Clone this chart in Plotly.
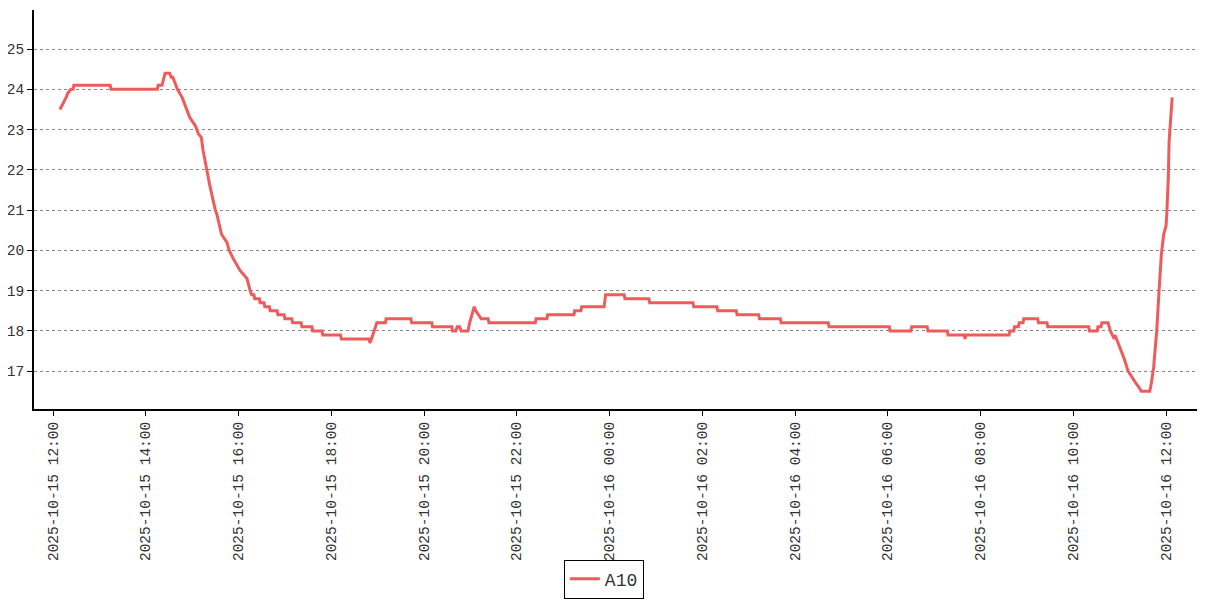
import plotly.graph_objects as go

# Sensor A10 temperature readings (plateau start/end points kept as separate samples)
times = [
    "2025-10-15 12:09", "2025-10-15 12:12", "2025-10-15 12:14", "2025-10-15 12:17", "2025-10-15 12:19",
    "2025-10-15 12:23", "2025-10-15 12:26", "2025-10-15 12:27", "2025-10-15 13:14", "2025-10-15 13:15",
    "2025-10-15 14:15", "2025-10-15 14:16", "2025-10-15 14:21", "2025-10-15 14:22", "2025-10-15 14:25",
    "2025-10-15 14:31", "2025-10-15 14:33", "2025-10-15 14:35", "2025-10-15 14:37", "2025-10-15 14:41",
    "2025-10-15 14:47", "2025-10-15 14:53", "2025-10-15 14:57", "2025-10-15 15:04", "2025-10-15 15:08",
    "2025-10-15 15:12", "2025-10-15 15:14", "2025-10-15 15:17", "2025-10-15 15:19", "2025-10-15 15:23",
    "2025-10-15 15:30", "2025-10-15 15:32", "2025-10-15 15:38", "2025-10-15 15:45", "2025-10-15 15:48",
    "2025-10-15 15:53", "2025-10-15 16:02", "2025-10-15 16:11", "2025-10-15 16:15",
    "2025-10-15 16:17", "2025-10-15 16:20", "2025-10-15 16:21", "2025-10-15 16:27",
    "2025-10-15 16:28", "2025-10-15 16:33", "2025-10-15 16:34", "2025-10-15 16:40",
    "2025-10-15 16:41", "2025-10-15 16:50", "2025-10-15 16:51", "2025-10-15 16:59",
    "2025-10-15 17:00", "2025-10-15 17:09", "2025-10-15 17:10", "2025-10-15 17:21",
    "2025-10-15 17:22", "2025-10-15 17:35", "2025-10-15 17:36", "2025-10-15 17:48",
    "2025-10-15 17:49", "2025-10-15 18:12", "2025-10-15 18:13", "2025-10-15 18:49",
    "2025-10-15 18:50", "2025-10-15 18:52", "2025-10-15 18:55", "2025-10-15 18:59",
    "2025-10-15 19:10", "2025-10-15 19:11", "2025-10-15 19:43", "2025-10-15 19:44",
    "2025-10-15 20:10", "2025-10-15 20:11", "2025-10-15 20:36", "2025-10-15 20:37",
    "2025-10-15 20:41", "2025-10-15 20:43", "2025-10-15 20:46", "2025-10-15 20:48",
    "2025-10-15 20:57", "2025-10-15 20:59", "2025-10-15 21:02", "2025-10-15 21:05",
    "2025-10-15 21:07", "2025-10-15 21:10", "2025-10-15 21:14", "2025-10-15 21:23",
    "2025-10-15 21:24", "2025-10-15 22:24", "2025-10-15 22:25", "2025-10-15 22:39",
    "2025-10-15 22:40", "2025-10-15 23:14", "2025-10-15 23:15", "2025-10-15 23:23",
    "2025-10-15 23:24", "2025-10-15 23:53", "2025-10-15 23:55", "2025-10-16 00:19",
    "2025-10-16 00:20", "2025-10-16 00:51", "2025-10-16 00:52", "2025-10-16 01:48",
    "2025-10-16 01:49", "2025-10-16 02:19", "2025-10-16 02:20", "2025-10-16 02:44",
    "2025-10-16 02:45", "2025-10-16 03:13", "2025-10-16 03:14", "2025-10-16 03:41",
    "2025-10-16 03:42", "2025-10-16 04:43", "2025-10-16 04:44", "2025-10-16 06:02",
    "2025-10-16 06:03", "2025-10-16 06:30", "2025-10-16 06:31", "2025-10-16 06:51",
    "2025-10-16 06:52", "2025-10-16 07:17", "2025-10-16 07:18", "2025-10-16 07:39",
    "2025-10-16 07:40", "2025-10-16 07:41", "2025-10-16 08:37", "2025-10-16 08:38",
    "2025-10-16 08:43", "2025-10-16 08:44", "2025-10-16 08:49", "2025-10-16 08:50",
    "2025-10-16 08:55", "2025-10-16 08:56", "2025-10-16 09:14", "2025-10-16 09:15",
    "2025-10-16 09:26", "2025-10-16 09:27", "2025-10-16 10:20", "2025-10-16 10:21",
    "2025-10-16 10:31", "2025-10-16 10:32", "2025-10-16 10:36", "2025-10-16 10:37",
    "2025-10-16 10:45", "2025-10-16 10:48", "2025-10-16 10:50", "2025-10-16 10:53",
    "2025-10-16 10:54", "2025-10-16 10:56", "2025-10-16 10:58", "2025-10-16 11:02",
    "2025-10-16 11:06", "2025-10-16 11:11", "2025-10-16 11:17", "2025-10-16 11:21",
    "2025-10-16 11:25", "2025-10-16 11:28", "2025-10-16 11:39", "2025-10-16 11:41",
    "2025-10-16 11:44", "2025-10-16 11:48", "2025-10-16 11:51", "2025-10-16 11:54",
    "2025-10-16 11:57", "2025-10-16 12:00", "2025-10-16 12:01", "2025-10-16 12:03",
    "2025-10-16 12:04", "2025-10-16 12:06", "2025-10-16 12:08",
]
temps = [
    23.5, 23.6, 23.7, 23.8, 23.9,
    24.0, 24.0, 24.1, 24.1, 24.0,
    24.0, 24.1, 24.1, 24.2, 24.4,
    24.4, 24.3, 24.3, 24.2, 24.0,
    23.8, 23.5, 23.3, 23.1, 22.9,
    22.8, 22.5, 22.2, 22.0, 21.6,
    21.0, 20.9, 20.4, 20.2, 20.0,
    19.8, 19.5, 19.3, 19.0,
    18.9, 18.9, 18.8, 18.8,
    18.7, 18.7, 18.6, 18.6,
    18.5, 18.5, 18.4, 18.4,
    18.3, 18.3, 18.2, 18.2,
    18.1, 18.1, 18.0, 18.0,
    17.9, 17.9, 17.8, 17.8,
    17.7, 17.8, 18.0, 18.2,
    18.2, 18.3, 18.3, 18.2,
    18.2, 18.1, 18.1, 18.0,
    18.0, 18.1, 18.1, 18.0,
    18.0, 18.2, 18.4, 18.6,
    18.5, 18.4, 18.3, 18.3,
    18.2, 18.2, 18.3, 18.3,
    18.4, 18.4, 18.5, 18.5,
    18.6, 18.6, 18.9, 18.9,
    18.8, 18.8, 18.7, 18.7,
    18.6, 18.6, 18.5, 18.5,
    18.4, 18.4, 18.3, 18.3,
    18.2, 18.2, 18.1, 18.1,
    18.0, 18.0, 18.1, 18.1,
    18.0, 18.0, 17.9, 17.9,
    17.8, 17.9, 17.9, 18.0,
    18.0, 18.1, 18.1, 18.2,
    18.2, 18.3, 18.3, 18.2,
    18.2, 18.1, 18.1, 18.0,
    18.0, 18.1, 18.1, 18.2,
    18.2, 18.0, 17.9, 17.8,
    17.9, 17.8, 17.7, 17.5,
    17.3, 17.0, 16.8, 16.7,
    16.6, 16.5, 16.5, 16.7,
    17.1, 18.0, 19.0, 19.9,
    20.4, 20.6, 20.9, 21.8,
    22.7, 23.4, 23.8,
]
series_name = "A10"
x_range = ["2025-10-15 11:35:25", "2025-10-16 12:40:06"]
y_range = [16.06, 25.97]
y_ticks = [17, 18, 19, 20, 21, 22, 23, 24, 25]

FONT = "Liberation Mono, DejaVu Sans Mono, monospace"

fig = go.Figure()
fig.add_trace(go.Scatter(
    x=times, y=temps, mode="lines", name=series_name,
    line=dict(color="#ef5b5b", width=3),
))

# page body adds an 8px offset, so the figure is sized to fit the window
fig.update_layout(
    width=1199, height=592,
    margin=dict(l=26, r=10, t=2, b=189),
    paper_bgcolor="white", plot_bgcolor="white",
    font=dict(family=FONT, color="#333333", size=15),
    showlegend=True,
    legend=dict(
        x=0.49, xanchor="center", y=-0.4264, yanchor="middle",
        orientation="h", bordercolor="black", borderwidth=1,
        font=dict(family=FONT, size=18, color="#333333"),
        itemwidth=30,
    ),
)
fig.update_xaxes(
    type="date", range=x_range, automargin=False,
    tick0="2025-10-15 12:00", dtick=2 * 3600 * 1000,
    tickformat="%Y-%m-%d %H:%M", tickangle=-90,
    showgrid=False, zeroline=False,
    showline=True, linecolor="black", linewidth=2,
    ticks="outside", ticklen=5, tickcolor="black",
    tickfont=dict(family=FONT, size=14.5, color="#333333"),
)
fig.update_yaxes(
    range=y_range, tickvals=y_ticks, automargin=False,
    showgrid=True, gridcolor="#888888", griddash="dot", gridwidth=1,
    zeroline=False,
    showline=True, linecolor="black", linewidth=2,
    ticks="outside", ticklen=5, tickcolor="black",
    tickfont=dict(family=FONT, size=14.5, color="#333333"),
)

fig.write_html("out.html")
